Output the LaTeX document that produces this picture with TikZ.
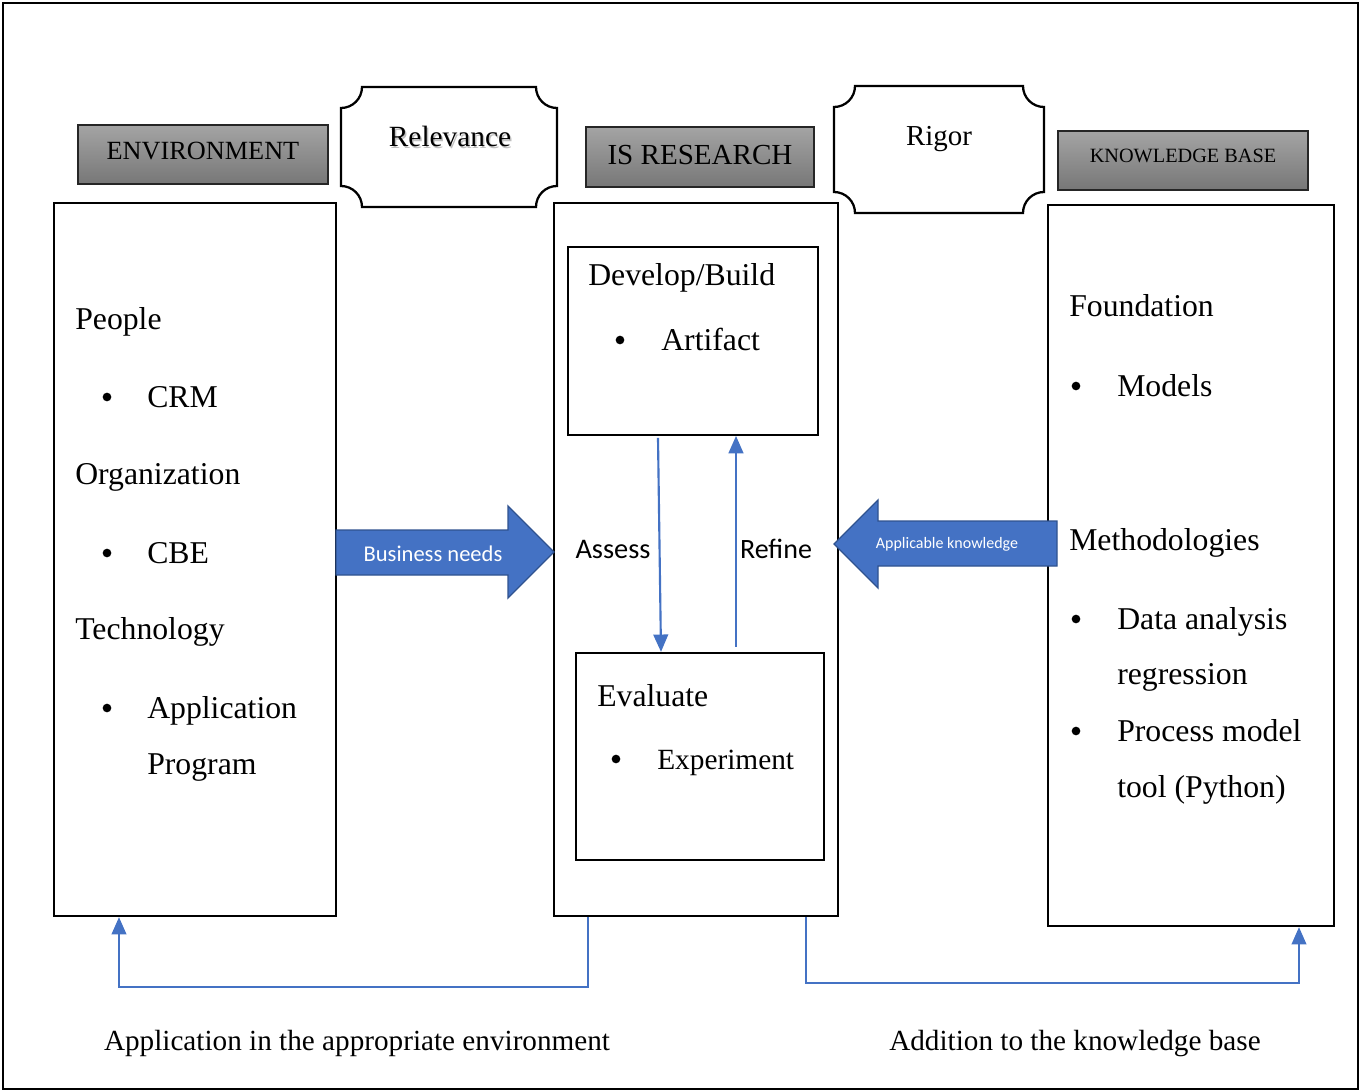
\documentclass[tikz,border=0pt]{standalone}
\usepackage{fontspec}
\setmainfont{Liberation Serif}
\newfontfamily\calfont{Carlito}
\usetikzlibrary{arrows.meta,calc}
\definecolor{bl}{HTML}{4472C4}
\definecolor{bldark}{HTML}{2F528F}
\definecolor{hdrtop}{HTML}{A4A4A4}
\definecolor{hdrbot}{HTML}{777777}
\newcommand\fsz[1]{\fontsize{#1}{#1}\selectfont}
\newcommand\plaquebox[5]{%
  \draw[line width=1.7pt] (#1+#5,#2) -- (#3-#5,#2)
    arc[start angle=180,end angle=90,radius=#5] -- (#3,#4-#5)
    arc[start angle=270,end angle=180,radius=#5] -- (#1+#5,#4)
    arc[start angle=360,end angle=270,radius=#5] -- (#1,#2+#5)
    arc[start angle=90,end angle=0,radius=#5] -- cycle;}
\begin{document}
\begin{tikzpicture}[x=0.75pt,y=-0.75pt,
  bigbox/.style={draw=black,line width=1.7pt,inner sep=0pt,fill=white},
  hdr/.style={draw=black!85,line width=0.9pt,top color=hdrtop,bottom color=hdrbot,inner sep=0pt},
  txt/.style={anchor=base west,inner sep=0pt,font=\fsz{23.8}},
  bul/.style={fill=black,circle,inner sep=0pt,minimum size=6.5pt},
  blarrow/.style={draw=bl,line width=1.6pt,-{Triangle[length=13pt,width=11pt]}},
  fat/.style={fill=bl,draw=bldark,line width=1pt},
  cal/.style={font=\calfont,inner sep=0pt}]
\useasboundingbox (0,0) rectangle (1361,1092);
\draw[line width=1.5pt] (3,3) rectangle (1358,1089);

% headers
\node[hdr,minimum width=250*0.75pt,minimum height=59*0.75pt] (envh) at (203,154.5) {};
\node[font=\fsz{19.7}] (envht) at (203,151) {ENVIRONMENT};
\node[hdr,minimum width=228*0.75pt,minimum height=60*0.75pt] (ish) at (700,157) {};
\node[font=\fsz{21.8}] (isht) at (700,155) {IS RESEARCH};
\node[hdr,minimum width=250*0.75pt,minimum height=59*0.75pt] (kbh) at (1183,160.5) {};
\node[font=\fsz{15.2}] (kbht) at (1183,155.5) {KNOWLEDGE BASE};

% plaques
\plaquebox{341}{87}{557}{207}{21}
\plaquebox{834}{86}{1044}{213}{21}
\node[text=black!25,font=\fsz{22}] (relsh) at (451.5,138) {Relevance};
\node[font=\fsz{22}] (rel) at (450,136) {Relevance};
\node[font=\fsz{21.7}] (rig) at (939,139) {Rigor};

% main boxes
\node[bigbox,minimum width=282*0.75pt,minimum height=713*0.75pt] (env) at (195,559.5) {};
\node[bigbox,minimum width=284*0.75pt,minimum height=713*0.75pt] (is) at (696,559.5) {};
\node[bigbox,minimum width=286*0.75pt,minimum height=721*0.75pt] (kb) at (1191,565.5) {};
\node[bigbox,line width=1.4pt,minimum width=250*0.75pt,minimum height=188*0.75pt] (dev) at (693,341) {};
\node[bigbox,minimum width=248*0.75pt,minimum height=207*0.75pt] (eval) at (700,756.5) {};

% environment text
\node[txt] (people) at (75,329) {People};
\node[bul] (b1) at (107,397) {};
\node[txt] (crm) at (147,407) {CRM};
\node[txt] (org) at (75,484) {Organization};
\node[bul] (b2) at (107,553) {};
\node[txt] (cbe) at (147,563) {CBE};
\node[txt] (tech) at (75,639) {Technology};
\node[bul] (b3) at (107,708) {};
\node[txt] (app) at (147,718) {Application};
\node[txt] (prog) at (147,774) {Program};

% IS research text
\node[txt] (devt) at (588,285) {Develop/Build};
\node[bul] (b4) at (620,340) {};
\node[txt] (art) at (661,350) {Artifact};
\node[txt] (evt) at (597,706) {Evaluate};
\node[bul] (b5) at (616,759) {};
\node[txt,font=\fsz{22}] (exp) at (657,769) {Experiment};

% knowledge base text
\node[txt] (found) at (1069,316) {Foundation};
\node[bul] (b6) at (1076,386) {};
\node[txt] (mod) at (1117,396) {Models};
\node[txt] (meth) at (1069,550) {Methodologies};
\node[bul] (b7) at (1076,619) {};
\node[txt] (da) at (1117,629) {Data analysis};
\node[txt] (reg) at (1117,684) {regression};
\node[bul] (b8) at (1076,731) {};
\node[txt] (pm) at (1117,741) {Process model};
\node[txt] (tool) at (1117,797) {tool (Python)};

% fat arrows
\draw[fat] (336,530) -- (508,530) -- (508,506) -- (554,552) -- (508,598) -- (508,575) -- (336,575) -- cycle;
\node[cal,text=white,font=\calfont\fsz{16.9}] (bn) at (433,554) {Business needs};
\draw[fat] (1057,521) -- (878,521) -- (878,500) -- (834,544) -- (878,588) -- (878,566) -- (1057,566) -- cycle;
\node[cal,text=white,font=\calfont\fsz{12}] (ak) at (947,544) {Applicable knowledge};

% assess / refine
\draw[blarrow] ($(dev.south)+(-35,2)$) -- ($(eval.north)+(-39,0)$);
\draw[blarrow] ($(eval.north)+(36,-5)$) -- ($(dev.south)+(43,0)$);
\node[cal,font=\calfont\fsz{21.3}] (assess) at (613,549) {Assess};
\node[cal,font=\calfont\fsz{21}] (refine) at (776,549) {Refine};

% bottom connectors
\draw[blarrow] ($(is.south)+(-108,0)$) -- ++(0,70) -| ($(env.south)+(-76,0)$);
\draw[blarrow] ($(is.south)+(110,0)$) -- ++(0,66) -| ($(kb.south)+(108,0)$);

\node[anchor=base,inner sep=0pt,font=\fsz{21.9}] (appl) at (357,1050) {Application in the appropriate environment};
\node[anchor=base,inner sep=0pt,font=\fsz{21.9}] (addk) at (1075,1050) {Addition to the knowledge base};
\end{tikzpicture}
\end{document}
